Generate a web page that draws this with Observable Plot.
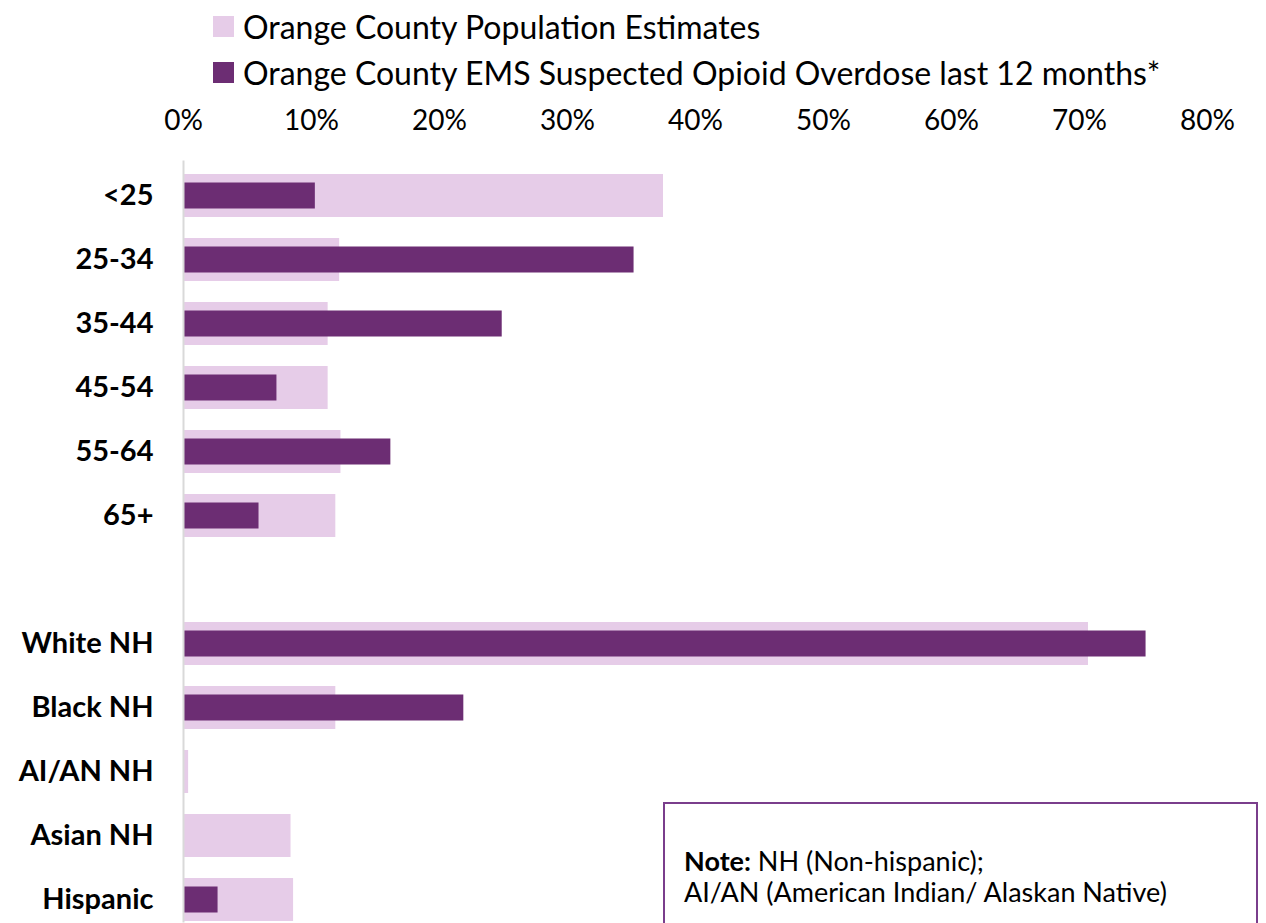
<!DOCTYPE html>
<html>
<head>
<meta charset="utf-8">
<script src="https://cdn.jsdelivr.net/npm/d3@7"></script>
<script src="https://cdn.jsdelivr.net/npm/@observablehq/plot@0.6"></script>
<style>
  html, body { margin: 0; padding: 0; background: #fff; overflow: hidden; }
  body { width: 1266px; height: 923px; position: relative; font-family: Lato, "Open Sans", sans-serif; }
  #chart { position: absolute; left: 0; top: 0; }
  .legend { position: absolute; left: 213px; top: 0; font-size: 32px; color: #000; }
  .legend .item { position: absolute; left: 0; white-space: nowrap; display: flex; align-items: center; height: 30px; }
  .legend .sw { width: 21px; height: 21px; margin-right: 9px; display: inline-block; }
  .note { position: absolute; left: 663px; top: 802px; width: 595px; height: 140px; border: 2px solid #7A3E8C; box-sizing: border-box; font-size: 27px; color: #000; }
  .note .l { position: absolute; left: 19px; white-space: nowrap; line-height: 30px; }
</style>
</head>
<body>
<div id="chart"></div>
<div class="legend" id="legend"></div>
<div class="note">
  <div class="l" style="top:42px"><b>Note:</b> NH (Non-hispanic);</div>
  <div class="l" style="top:73px">AI/AN (American Indian/ Alaskan Native)</div>
</div>
<script>
const categories = ["<25", "25-34", "35-44", "45-54", "55-64", "65+", " ", "White NH", "Black NH", "AI/AN NH", "Asian NH", "Hispanic"];
const popCategories = ["<25", "25-34", "35-44", "45-54", "55-64", "65+", "White NH", "Black NH", "AI/AN NH", "Asian NH", "Hispanic"];
const populationEstimates = [0.375, 0.122, 0.113, 0.113, 0.123, 0.119, 0.707, 0.119, 0.004, 0.084, 0.086];
const emsOverdose = [0.103, 0.352, 0.249, 0.073, 0.162, 0.059, 0.752, 0.219, 0, 0, 0.027];
const seriesNames = ["Orange County Population Estimates", "Orange County EMS Suspected Opioid Overdose last 12 months*"];
const seriesColors = ["#E6CCE8", "#6C2D73"];
const xTicks = [0, 0.1, 0.2, 0.3, 0.4, 0.5, 0.6, 0.7, 0.8];

const popData = popCategories.map((c, i) => ({category: c, value: populationEstimates[i]}));
const emsData = popCategories.map((c, i) => ({category: c, value: emsOverdose[i]}));

const chart = Plot.plot({
  width: 1266,
  height: 923,
  marginLeft: 183,
  marginRight: 59,
  marginTop: 171.5,
  marginBottom: 0.5,
  style: {fontFamily: "Lato, 'Open Sans', sans-serif", background: "transparent"},
  x: {domain: [0, 0.8], ticks: xTicks, tickFormat: d3.format(".0%")},
  y: {domain: categories, paddingInner: 0.332, paddingOuter: 0},
  marks: [
    Plot.barX(popData, {y: "category", x: "value", fill: seriesColors[0]}),
    Plot.barX(emsData, {y: "category", x: "value", fill: seriesColors[1], insetTop: 8.5, insetBottom: 8.5}),
    Plot.ruleX([0], {stroke: "#D9D9D9", strokeWidth: 2, insetTop: -11}),
    Plot.axisX({anchor: "top", ticks: xTicks, tickFormat: d3.format(".0%"), tickSize: 0, tickPadding: 42, fontSize: 28, fill: "#000", label: null}),
    Plot.axisY({tickSize: 0, tickPadding: 30, fontSize: 29, fontWeight: "bold", fill: "#000", label: null, tickFormat: d => d.trim() === "" ? "" : d})
  ]
});
document.getElementById("chart").appendChild(chart);

const legend = document.getElementById("legend");
const legendTops = [11, 57];
seriesNames.forEach((name, i) => {
  const item = document.createElement("div");
  item.className = "item";
  item.style.top = legendTops[i] + "px";
  const sw = document.createElement("span");
  sw.className = "sw";
  sw.style.background = seriesColors[i];
  item.appendChild(sw);
  item.appendChild(document.createTextNode(name));
  legend.appendChild(item);
});
</script>
</body>
</html>
